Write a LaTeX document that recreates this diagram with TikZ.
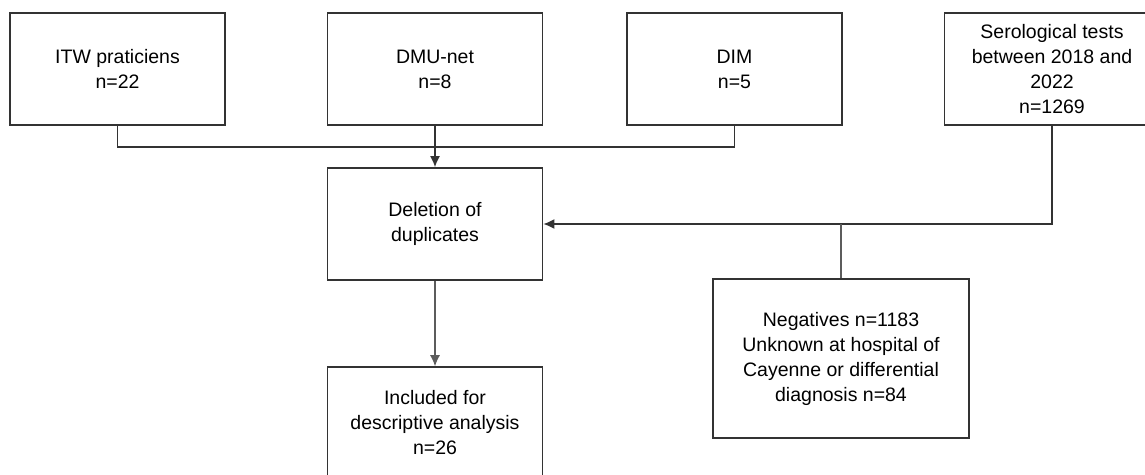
\documentclass[tikz,border=0pt]{standalone}
\usepackage{fontspec}
\setmainfont{Liberation Sans}
\usepackage{tikz}
\usetikzlibrary{arrows.meta,calc}
\usepackage{xcolor}
\definecolor{linegray}{HTML}{333333}
\tikzstyle{flow}=[
  >={Latex[length=11pt,width=10pt]}, x=1pt, y=-1pt,
  font=\fontsize{19.5}{25}\selectfont
]
\tikzstyle{stepbox}=[
  draw=linegray, line width=1.6pt, fill=white, align=center,
  minimum width=215pt, minimum height=112pt, inner sep=0pt
]
\tikzstyle{mainedge}=[
  draw=linegray, line width=1.6pt
]
\tikzstyle{thinedge}=[
  draw=linegray!80, line width=1.1pt
]
\begin{document}
\begin{tikzpicture}[flow]
  \useasboundingbox (0,0) rectangle (1145,474);
  % sources
  \node (itw) at (117.5,69) [stepbox] {ITW praticiens\\n=22};
  \node (dmu) at (435,69) [stepbox] {DMU-net\\n=8};
  \node (dim) at (734.5,69) [stepbox] {DIM\\n=5};
  \node (sero) at (1052,69) [stepbox] {Serological tests\\between 2018 and\\2022\\n=1269};
  % processing
  \node (dedup) at (435,224) [stepbox] {Deletion of\\duplicates};
  \node (incl) at (435,423) [stepbox] {Included for\\descriptive analysis\\n=26};
  \node (excl) at (841,358.5) [stepbox, minimum width=256pt, minimum height=159pt]
    {Negatives n=1183\\Unknown at hospital of\\Cayenne or differential\\diagnosis n=84};
  \coordinate (join) at (435,147);
  \coordinate (split) at (841,224);
  \draw [mainedge] (itw.south) |- (join) -| (dim.south);
  \draw [mainedge,->] (dmu.south) -- (dedup.north);
  \draw [mainedge,->] (sero.south) |- (dedup.east);
  \draw [thinedge] (split) -- (excl.north);
  \draw [thinedge,->] (dedup.south) -- (incl.north);
\end{tikzpicture}
\end{document}
